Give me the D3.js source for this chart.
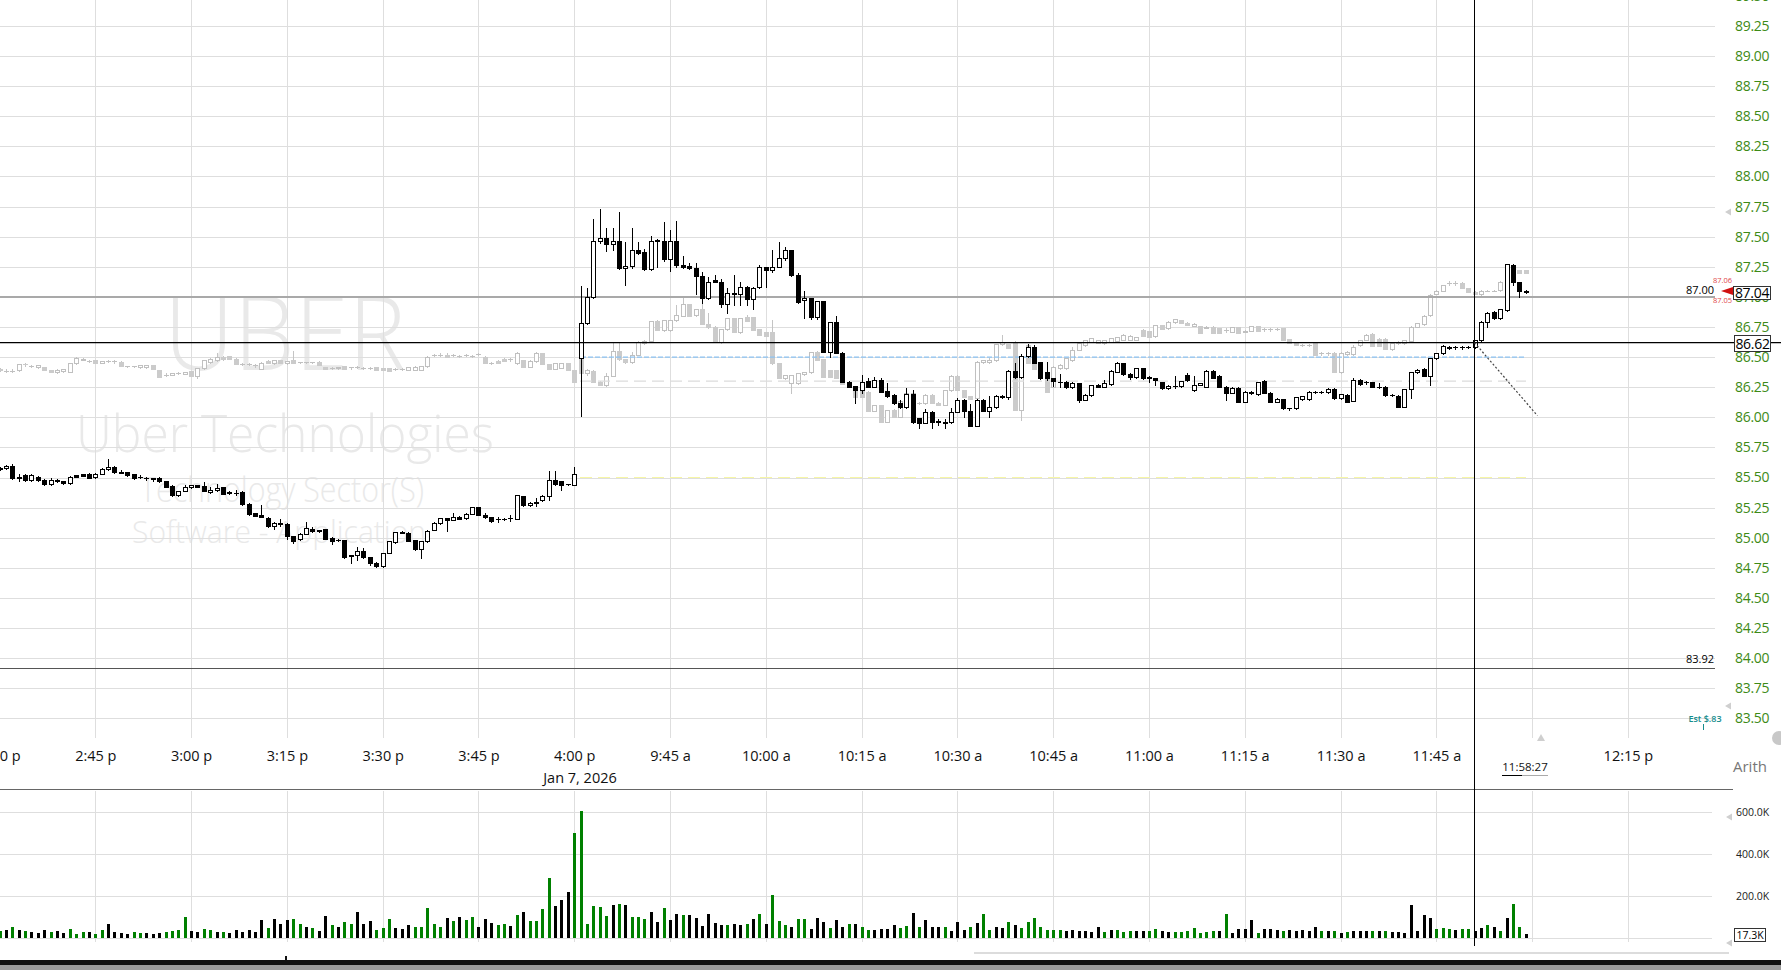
<!DOCTYPE html>
<html><head><meta charset="utf-8">
<script src="https://cdn.jsdelivr.net/npm/d3@7/dist/d3.min.js"></script>
<style>
html,body{margin:0;padding:0;background:#fff;overflow:hidden}
svg{display:block}
text{font-family:"Open Sans","Noto Sans",sans-serif}
</style></head><body>
<svg id="c" width="1781" height="970"></svg>
<script>
// ---------------- DATA ----------------
// previous session (Jan 6) 1-min candles [open, high, low, close], 2:30p .. 4:00p
const prevDayCandles = [
[85.569,85.59,85.56,85.583],[85.58,85.603,85.57,85.597],[85.597,85.614,85.49,85.494],[85.494,85.525,85.467,85.503],
[85.517,85.531,85.475,85.481],[85.481,85.525,85.475,85.517],[85.506,85.51,85.475,85.481],[85.481,85.485,85.44,85.444],
[85.444,85.494,85.44,85.481],[85.481,85.485,85.46,85.467],[85.467,85.47,85.45,85.453],[85.453,85.51,85.45,85.506],
[85.519,85.52,85.505,85.508],[85.525,85.53,85.51,85.514],[85.531,85.535,85.5,85.5],[85.503,85.535,85.5,85.531],
[85.531,85.575,85.53,85.569],[85.569,85.653,85.565,85.589],[85.589,85.595,85.54,85.542],[85.542,85.564,85.536,85.538],
[85.542,85.545,85.515,85.517],[85.525,85.53,85.49,85.494],[85.506,85.52,85.5,85.503],[85.5,85.502,85.48,85.497],
[85.494,85.496,85.475,85.491],[85.5,85.505,85.465,85.467],[85.472,85.475,85.42,85.425],[85.431,85.435,85.35,85.353],
[85.353,85.392,85.35,85.389],[85.389,85.436,85.385,85.417],[85.417,85.44,85.415,85.436],[85.436,85.44,85.42,85.425],
[85.431,85.461,85.385,85.389],[85.378,85.417,85.369,85.4],[85.394,85.444,85.39,85.414],[85.417,85.42,85.365,85.367],
[85.381,85.385,85.365,85.369],[85.375,85.397,85.353,85.373],[85.383,85.385,85.275,85.278],[85.283,85.285,85.19,85.194],
[85.203,85.205,85.178,85.181],[85.186,85.272,85.172,85.175],[85.167,85.17,85.09,85.094],[85.097,85.13,85.069,85.125],
[85.125,85.153,85.097,85.114],[85.114,85.118,84.992,85.014],[85.014,85.016,84.958,84.975],[84.989,85.035,84.985,85.031],
[85.033,85.128,85.03,85.081],[85.075,85.092,85.047,85.058],[85.067,85.068,85.05,85.056],[85.072,85.075,84.99,84.992],
[85.0,85.002,84.947,84.975],[84.981,84.99,84.97,84.98],[84.981,84.983,84.833,84.836],[84.853,84.855,84.792,84.852],
[84.853,84.925,84.814,84.886],[84.892,84.911,84.83,84.836],[84.836,84.84,84.772,84.789],[84.794,84.797,84.758,84.761],
[84.761,84.877,84.758,84.875],[84.875,84.972,84.869,84.969],[84.961,85.046,84.958,85.044],[85.05,85.053,85.036,85.039],
[85.042,85.045,84.972,84.975],[84.981,84.983,84.897,84.906],[84.906,84.972,84.833,84.969],[84.969,85.06,84.966,85.058],
[85.064,85.128,85.06,85.125],[85.119,85.167,85.117,85.164],[85.164,85.166,85.058,85.147],[85.147,85.206,85.145,85.175],
[85.175,85.178,85.155,85.158],[85.161,85.203,85.158,85.2],[85.2,85.255,85.197,85.253],[85.253,85.255,85.186,85.189],
[85.192,85.203,85.161,85.169],[85.169,85.172,85.133,85.142],[85.153,85.175,85.131,85.152],[85.158,85.165,85.15,85.157],
[85.164,85.186,85.142,85.163],[85.158,85.358,85.155,85.353],[85.346,85.35,85.265,85.27],[85.27,85.295,85.265,85.29],
[85.29,85.33,85.26,85.3],[85.31,85.355,85.305,85.35],[85.35,85.555,85.31,85.48],[85.48,85.555,85.44,85.445],
[85.47,85.472,85.4,85.44],[85.445,85.45,85.435,85.443],[85.44,85.59,85.438,85.53]
];
// Jan 7 session 1-min candles [open, high, low, close], 9:31a .. 11:59a
const todayCandles = [
[86.49,87.09,86.01,86.786],[86.786,87.071,86.775,86.997],[86.997,87.647,86.99,87.462],[87.462,87.73,87.45,87.487],
[87.487,87.572,87.384,87.437],[87.437,87.57,87.39,87.462],[87.462,87.705,87.23,87.237],[87.237,87.453,87.102,87.254],
[87.254,87.572,87.24,87.387],[87.387,87.453,87.36,87.368],[87.37,87.395,87.22,87.232],[87.232,87.506,87.225,87.467],
[87.467,87.478,87.25,87.473],[87.467,87.62,87.30,87.312],[87.312,87.556,87.213,87.462],[87.462,87.63,87.25,87.262],
[87.262,87.34,87.24,87.251],[87.254,87.279,87.23,87.237],[87.237,87.279,87.02,87.177],[87.177,87.21,86.947,86.994],
[86.994,87.163,86.98,87.127],[87.141,87.182,87.12,87.127],[87.127,87.146,86.919,86.938],[86.938,87.071,86.864,87.035],
[87.035,87.182,86.933,87.022],[87.022,87.127,86.933,87.085],[87.085,87.09,86.933,86.98],[86.98,87.08,86.897,87.077],
[87.08,87.265,87.07,87.246],[87.246,87.25,87.085,87.224],[87.224,87.39,87.21,87.251],[87.251,87.453,87.245,87.32],
[87.32,87.412,87.31,87.387],[87.387,87.39,87.17,87.18],[87.18,87.201,86.95,86.961],[86.972,87.052,86.822,86.988],
[86.988,86.99,86.82,86.83],[86.83,86.97,86.82,86.966],[86.966,86.97,86.54,86.545],[86.545,86.79,86.504,86.789],
[86.789,86.842,86.53,86.537],[86.537,86.54,86.29,86.296],[86.296,86.3,86.25,86.255],[86.26,86.26,86.116,86.227],
[86.227,86.352,86.205,86.296],[86.302,86.324,86.25,86.255],[86.255,86.338,86.25,86.307],[86.307,86.324,86.21,86.213],
[86.221,86.282,86.17,86.177],[86.185,86.19,86.11,86.116],[86.122,86.144,86.08,86.083],[86.083,86.241,86.08,86.194],
[86.194,86.227,85.955,85.961],[85.992,85.995,85.914,85.95],[85.95,86.066,85.95,86.047],[86.047,86.05,85.914,85.961],
[85.97,85.986,85.936,85.958],[85.964,85.989,85.909,85.953],[85.958,86.075,85.95,86.041],[86.044,86.158,86.04,86.144],
[86.144,86.15,86.005,86.055],[86.055,86.111,85.925,85.931],[85.931,86.15,85.925,86.144],[86.144,86.15,86.05,86.055],
[86.055,86.177,86.0,86.083],[86.083,86.185,86.08,86.18],[86.18,86.185,86.16,86.166],[86.166,86.393,86.155,86.385],
[86.385,86.448,86.33,86.338],[86.338,86.526,86.33,86.509],[86.509,86.606,86.5,86.584],[86.584,86.601,86.45,86.454],
[86.457,86.46,86.32,86.33],[86.376,86.457,86.31,86.323],[86.33,86.33,86.26,86.304],[86.295,86.36,86.25,86.29],
[86.296,86.30,86.24,86.249],[86.249,86.29,86.245,86.282],[86.282,86.285,86.13,86.144],[86.144,86.19,86.14,86.185],
[86.185,86.27,86.18,86.268],[86.268,86.28,86.25,86.254],[86.254,86.31,86.25,86.282],[86.274,86.39,86.27,86.387],
[86.379,86.46,86.375,86.448],[86.448,86.45,86.355,86.36],[86.36,86.365,86.32,86.332],[86.332,86.41,86.33,86.407],
[86.407,86.41,86.32,86.323],[86.332,86.34,86.29,86.33],[86.329,86.33,86.27,86.31],[86.29,86.295,86.235,86.241],
[86.241,86.265,86.235,86.26],[86.26,86.34,86.24,86.261],[86.26,86.305,86.255,86.301],[86.351,86.365,86.305,86.31],
[86.227,86.34,86.22,86.268],[86.268,86.285,86.265,86.282],[86.254,86.39,86.25,86.385],[86.385,86.39,86.325,86.329],
[86.345,86.35,86.25,86.254],[86.254,86.26,86.144,86.205],[86.205,86.25,86.2,86.245],[86.245,86.25,86.125,86.13],
[86.13,86.22,86.125,86.213],[86.205,86.215,86.195,86.206],[86.191,86.295,86.185,86.29],[86.304,86.31,86.2,86.205],
[86.205,86.21,86.125,86.13],[86.13,86.16,86.125,86.152],[86.152,86.155,86.07,86.074],[86.074,86.08,86.06,86.075],
[86.074,86.17,86.07,86.166],[86.149,86.18,86.145,86.177],[86.149,86.22,86.145,86.213],[86.213,86.22,86.205,86.214],
[86.213,86.22,86.205,86.214],[86.21,86.24,86.205,86.232],[86.235,86.24,86.155,86.158],[86.158,86.195,86.15,86.191],
[86.185,86.19,86.125,86.13],[86.138,86.33,86.135,86.31],[86.31,86.315,86.27,86.277],[86.29,86.30,86.28,86.291],
[86.29,86.295,86.25,86.254],[86.254,86.282,86.241,86.255],[86.254,86.26,86.18,86.185],[86.185,86.19,86.175,86.186],
[86.18,86.185,86.085,86.088],[86.088,86.235,86.085,86.232],[86.232,86.38,86.158,86.373],[86.373,86.40,86.37,86.393],
[86.401,86.41,86.34,86.346],[86.346,86.495,86.27,86.49],[86.49,86.535,86.485,86.531],[86.531,86.60,86.525,86.595],
[86.587,86.59,86.57,86.575],[86.581,86.59,86.57,86.582],[86.581,86.59,86.57,86.582],[86.587,86.595,86.575,86.588],
[86.581,86.645,86.575,86.642],[86.639,86.80,86.635,86.794],[86.794,86.875,86.75,86.869],[86.875,86.88,86.82,86.827],
[86.827,86.90,86.82,86.897],[86.891,87.275,86.885,87.27],[87.265,87.27,87.10,87.127],[87.121,87.125,87.0,87.046],
[87.046,87.06,87.03,87.04]
];
// light-grey overlay series [open, high, low, close], one per bar slot
const ghostCandles = [
[86.40,86.41,86.385,86.39],[86.383,86.40,86.38,86.383],[86.383,86.40,86.38,86.384],[86.389,86.445,86.386,86.442],
[86.442,86.45,86.43,86.44],[86.425,86.435,86.415,86.425],[86.417,86.435,86.41,86.431],[86.417,86.42,86.39,86.392],
[86.392,86.395,86.375,86.378],[86.375,86.4,86.37,86.397],[86.381,86.405,86.375,86.403],[86.378,86.455,86.375,86.45],
[86.45,86.497,86.445,86.492],[86.478,86.492,86.475,86.486],[86.47,86.48,86.46,86.47],[86.475,86.477,86.45,86.45],
[86.45,86.47,86.447,86.467],[86.47,86.48,86.46,86.47],[86.464,86.475,86.455,86.464],[86.461,86.465,86.425,86.425],
[86.425,86.43,86.42,86.425],[86.425,86.43,86.42,86.425],[86.414,86.435,86.41,86.431],[86.414,86.433,86.41,86.431],
[86.431,86.433,86.403,86.403],[86.394,86.396,86.336,86.336],[86.353,86.365,86.345,86.353],[86.353,86.372,86.35,86.369],
[86.369,86.375,86.36,86.369],[86.361,86.38,86.358,86.378],[86.383,86.386,86.342,86.342],[86.342,86.407,86.33,86.406],
[86.406,86.478,86.4,86.475],[86.458,86.49,86.455,86.486],[86.475,86.53,86.47,86.497],[86.503,86.505,86.48,86.481],
[86.508,86.51,86.486,86.486],[86.486,86.49,86.439,86.439],[86.442,86.45,86.435,86.442],[86.442,86.45,86.435,86.442],
[86.431,86.44,86.42,86.431],[86.403,86.458,86.4,86.453],[86.469,86.472,86.447,86.447],[86.447,86.478,86.445,86.475],
[86.475,86.478,86.447,86.447],[86.447,86.47,86.445,86.469],[86.475,86.547,86.45,86.453],[86.456,86.46,86.45,86.456],
[86.456,86.46,86.45,86.456],[86.456,86.46,86.45,86.456],[86.461,86.465,86.433,86.433],[86.419,86.42,86.403,86.403],
[86.411,86.42,86.4,86.411],[86.406,86.42,86.405,86.419],[86.425,86.428,86.403,86.403],[86.414,86.42,86.405,86.414],
[86.419,86.425,86.41,86.419],[86.408,86.415,86.4,86.408],[86.408,86.415,86.4,86.408],[86.414,86.415,86.397,86.397],
[86.408,86.41,86.392,86.392],[86.408,86.41,86.386,86.386],[86.4,86.41,86.39,86.4],[86.4,86.41,86.39,86.4],
[86.392,86.42,86.39,86.414],[86.397,86.425,86.395,86.419],[86.397,86.43,86.395,86.425],[86.425,86.505,86.42,86.503],
[86.514,86.525,86.505,86.514],[86.519,86.53,86.51,86.519],[86.519,86.53,86.503,86.503],[86.514,86.525,86.505,86.514],
[86.508,86.52,86.5,86.508],[86.514,86.525,86.505,86.514],[86.508,86.52,86.5,86.508],[86.525,86.535,86.515,86.525],
[86.503,86.505,86.453,86.453],[86.453,86.46,86.445,86.453],[86.469,86.472,86.453,86.453],[86.486,86.49,86.464,86.464],
[86.481,86.49,86.47,86.481],[86.447,86.54,86.44,86.53],[86.476,86.48,86.42,86.421],[86.421,86.475,86.418,86.471],
[86.468,86.545,86.46,86.53],[86.53,86.535,86.443,86.443],[86.443,86.446,86.399,86.399],[86.404,86.45,86.4,86.448],
[86.412,86.455,86.41,86.451],[86.451,86.455,86.393,86.393],[86.393,86.396,86.296,86.296],
[86.49,86.50,86.36,86.365],[86.365,86.40,86.35,86.393],[86.387,86.39,86.29,86.291],[86.296,86.30,86.265,86.268],
[86.268,86.371,86.26,86.343],[86.343,86.615,86.34,86.554],[86.554,86.615,86.48,86.482],[86.482,86.485,86.455,86.457],
[86.457,86.545,86.45,86.518],[86.518,86.63,86.515,86.628],[86.615,86.64,86.61,86.637],[86.637,86.80,86.63,86.80],
[86.80,86.805,86.725,86.725],[86.725,86.81,86.72,86.808],[86.725,86.81,86.72,86.808],[86.808,86.933,86.80,86.85],
[86.842,86.988,86.84,86.938],[86.938,86.94,86.842,86.842],[86.85,86.9,86.845,86.9],[86.9,86.938,86.775,86.775],
[86.775,86.864,86.745,86.747],[86.753,86.755,86.628,86.628],[86.628,86.731,86.62,86.731],[86.731,86.822,86.725,86.822],
[86.822,86.825,86.711,86.711],[86.706,86.822,86.70,86.822],[86.83,86.85,86.80,86.803],[86.83,86.835,86.725,86.725],
[86.731,86.735,86.684,86.684],[86.706,86.71,86.678,86.678],[86.706,86.808,86.445,86.448],[86.448,86.45,86.324,86.324],
[86.324,86.355,86.32,86.352],[86.282,86.355,86.199,86.352],[86.282,86.37,86.28,86.365],[86.36,86.375,86.355,86.374],
[86.374,86.545,86.37,86.545],[86.545,86.55,86.476,86.476],[86.482,86.485,86.332,86.332],[86.393,86.395,86.332,86.332],
[86.393,86.395,86.324,86.324],[86.31,86.312,86.277,86.277],[86.268,86.27,86.255,86.255],[86.255,86.258,86.172,86.172],
[86.227,86.23,86.172,86.172],[86.213,86.215,86.053,86.053],[86.053,86.105,86.05,86.102],[86.102,86.105,85.964,85.964],
[85.964,86.061,85.96,86.061],[86.061,86.065,86.005,86.005],[86.005,86.138,86.0,86.138],[86.083,86.241,86.08,86.205],
[86.144,86.21,86.14,86.205],[86.116,86.125,86.11,86.122],[86.116,86.19,86.11,86.185],[86.185,86.19,86.116,86.116],
[86.122,86.125,86.102,86.102],[86.102,86.23,86.1,86.227],[86.227,86.35,86.22,86.343],[86.343,86.35,86.227,86.227],
[86.227,86.23,86.166,86.166],[86.177,86.18,86.155,86.155],[86.158,86.465,86.15,86.462],[86.462,86.48,86.455,86.476],
[86.462,86.49,86.455,86.476],[86.476,86.61,86.47,86.609],[86.609,86.681,86.60,86.628],[86.609,86.612,86.573,86.573],
[86.62,86.63,86.06,86.06],[86.06,86.52,85.98,86.50],[86.60,86.61,86.45,86.45],[86.45,86.455,86.40,86.40],
[86.40,86.41,86.36,86.365],[86.365,86.37,86.21,86.213],[86.254,86.43,86.25,86.42],[86.407,86.44,86.40,86.434],
[86.407,86.495,86.40,86.49],[86.476,86.587,86.47,86.559],[86.559,86.62,86.555,86.614],[86.60,86.645,86.595,86.642],
[86.628,86.66,86.625,86.656],[86.62,86.645,86.615,86.642],[86.614,86.645,86.61,86.642],[86.628,86.66,86.625,86.656],
[86.636,86.67,86.63,86.664],[86.642,86.69,86.64,86.684],[86.642,86.68,86.64,86.675],[86.642,86.67,86.64,86.664],
[86.725,86.73,86.675,86.675],[86.717,86.72,86.664,86.664],[86.675,86.77,86.67,86.767],[86.767,86.77,86.731,86.731],
[86.739,86.80,86.735,86.794],[86.789,86.82,86.785,86.814],[86.808,86.81,86.786,86.786],[86.786,86.79,86.767,86.767],
[86.758,86.78,86.755,86.775],[86.758,86.76,86.697,86.697],[86.742,86.755,86.74,86.753],[86.753,86.755,86.697,86.697],
[86.742,86.745,86.703,86.703],[86.725,86.74,86.71,86.725],[86.711,86.75,86.71,86.747],[86.747,86.75,86.697,86.697],
[86.708,86.725,86.705,86.72],[86.72,86.76,86.715,86.758],[86.758,86.76,86.72,86.72],[86.731,86.74,86.72,86.731],
[86.731,86.74,86.72,86.731],[86.736,86.745,86.725,86.736],[86.739,86.745,86.642,86.642],[86.648,86.65,86.62,86.62],
[86.62,86.622,86.60,86.60],[86.60,86.61,86.59,86.60],[86.60,86.61,86.59,86.60],[86.614,86.62,86.517,86.517],
[86.531,86.54,86.52,86.531],[86.531,86.54,86.52,86.531],[86.537,86.54,86.379,86.379],[86.379,86.54,86.37,86.537],
[86.526,86.55,86.52,86.545],[86.526,86.60,86.52,86.587],[86.60,86.645,86.595,86.642],[86.642,86.69,86.64,86.684],
[86.692,86.70,86.592,86.592],[86.653,86.66,86.592,86.592],[86.653,86.66,86.564,86.564],[86.564,86.62,86.56,86.62],
[86.62,86.63,86.61,86.62],[86.614,86.645,86.61,86.642],[86.636,86.76,86.63,86.753],[86.753,86.78,86.75,86.781],
[86.775,86.85,86.77,86.844],[86.85,87.02,86.845,87.016],[87.024,87.06,87.02,87.052],[87.052,87.10,87.05,87.099],
[87.118,87.13,87.10,87.118],[87.118,87.13,87.10,87.118],[87.118,87.12,87.071,87.071],[87.071,87.075,87.043,87.043],
[87.043,87.045,87.021,87.021],[87.024,87.06,87.0,87.052],[87.052,87.06,87.045,87.052],[87.052,87.06,87.045,87.052],
[87.057,87.13,87.05,87.121],[87.121,87.14,87.12,87.13],[87.127,87.23,87.12,87.223],[87.223,87.225,87.201,87.201],
[87.223,87.225,87.196,87.196]
];
// volume per bar, thousands of shares
const volumesK = [
30,34,49,34,29,24,20,34,24,29,20,39,15,24,24,15,34,63,24,20,15,24,20,20,15,20,24,29,34,98,
29,24,39,34,24,24,20,34,24,34,24,83,44,88,63,83,88,63,49,44,29,102,59,49,73,63,122,63,78,34,
44,88,44,39,59,49,49,141,63,49,93,78,98,83,98,49,88,68,59,63,54,107,122,78,78,137,283,151,180,220,
500,607,63,151,146,102,156,161,156,98,98,88,122,73,141,83,112,107,107,93,54,112,68,59,59,63,59,63,88,112,
63,205,78,62,49,89,89,43,92,75,46,82,49,66,66,49,36,36,40,40,62,46,56,118,52,85,49,49,49,33,
72,36,52,69,111,36,52,46,72,62,46,75,92,52,36,36,36,30,36,33,30,26,52,26,36,36,26,30,30,33,
33,39,30,26,26,26,30,46,20,26,30,30,115,23,39,39,82,23,39,43,36,33,36,33,36,30,52,33,30,30,
20,26,30,33,33,33,33,30,26,26,20,156,30,108,92,39,46,43,36,39,43,30,46,59,49,33,92,161,49,17.3
];
// volume bar colour per bar: g = green, b = black
const volumeColors = (
"gbgbgbbbgbbgggbggbbbbggbbbggggbbggbgbbbbbbgbbbggbgbbgbggbbbgggbbbgggggbgbggbbbggbgbggggbbbgg"+
"ggggbgbgggbbgbbgbbbbbbgbbgbgbgggbggbbbgbbgbggbbbbggbgbbbgbbbgbggbbgbgggggggbbbbbbgbgggbbggbbg"+
"ggggggbgbbbbgbbbgbbbbbgbgbgbbbgbgbbbbbbbgggbggbbgbgbggbggbbb"
).split("");
// axis ticks / labels
const timeTickIdx = [0,15,30,45,60,75,90,105,120,135,150,165,180,195,210,225,255];
const timeTickLabels = ["2:30 p","2:45 p","3:00 p","3:15 p","3:30 p","3:45 p","4:00 p","9:45 a","10:00 a","10:15 a","10:30 a","10:45 a","11:00 a","11:15 a","11:30 a","11:45 a","12:15 p"];
const timeGridIdx = [15,30,45,60,75,90,105,120,135,150,165,180,195,210,225,240,255];
const priceTicks = [89.5,89.25,89.0,88.75,88.5,88.25,88.0,87.75,87.5,87.25,87.0,86.75,86.5,86.25,86.0,85.75,85.5,85.25,85.0,84.75,84.5,84.25,84.0,83.75,83.5];
const volumeTicks = [200000,400000,600000];
const volumeTickLabels = ["200.0K","400.0K","600.0K"];
// reference levels
const levelPrevHigh = 87.00, levelCross = 86.62, levelLow = 83.92, levelBlue = 86.50, levelGreyDash = 86.30, levelYellow = 85.50;
const lastPrice = 87.04;

// ---------------- DRAW ----------------
const svg = d3.select("#c");
const W = 1781;
const candles = prevDayCandles.concat(todayCandles);
const x = d3.scaleLinear().domain([0,255]).range([-0.5,1627.9]);
const y = d3.scaleLinear().domain([83.5,87.5]).range([718.3,236.7]);
const vy = d3.scaleLinear().domain([0,600000]).range([937.5,812.4]);
const px = i => Math.round(x(i)) + 0.5;
const PLOT_R = 1715;

// watermark
const wm = svg.append("g").attr("fill","#e9e9e9").style("font-weight",300);
wm.append("text").attr("x",164).attr("y",370).attr("font-size",104).attr("textLength",242).attr("lengthAdjust","spacingAndGlyphs").text("UBER");
wm.append("text").attr("x",76).attr("y",452).attr("font-size",52).attr("textLength",418).attr("lengthAdjust","spacingAndGlyphs").text("Uber Technologies");
wm.append("text").attr("x",140).attr("y",502).attr("font-size",34).attr("textLength",284).attr("lengthAdjust","spacingAndGlyphs").text("Technology Sector(S)");
wm.append("text").attr("x",132).attr("y",543).attr("font-size",32).attr("textLength",294).attr("lengthAdjust","spacingAndGlyphs").text("Software - Application");

// grid
const grid = svg.append("g").attr("stroke","#dedede").attr("stroke-width",1).attr("shape-rendering","crispEdges");
grid.selectAll("line.h").data(priceTicks).join("line")
  .attr("x1",0).attr("x2",PLOT_R).attr("y1",d=>Math.round(y(d))+0.5).attr("y2",d=>Math.round(y(d))+0.5);
grid.selectAll("line.v").data(timeGridIdx).join("line")
  .attr("x1",d=>px(d)).attr("x2",d=>px(d)).attr("y1",0).attr("y2",738);
grid.selectAll("line.vv").data(timeGridIdx).join("line")
  .attr("x1",d=>px(d)).attr("x2",d=>px(d)).attr("y1",791).attr("y2",942);
grid.selectAll("line.vh").data([0].concat(volumeTicks)).join("line")
  .attr("x1",0).attr("x2",1712).attr("y1",d=>Math.round(vy(d))+0.5).attr("y2",d=>Math.round(vy(d))+0.5);

function drawCandles(g, data, up, down, wick){
  data.forEach((d,i)=>{
    const [o,h,l,c] = d;
    const cx = px(i);
    g.append("line").attr("x1",cx).attr("x2",cx).attr("y1",Math.round(y(h))).attr("y2",Math.round(y(l))+1)
      .attr("stroke",wick).attr("stroke-width",1);
    const t = Math.round(y(Math.max(o,c))), b = Math.round(y(Math.min(o,c)));
    if (b - t < 2) {
      g.append("rect").attr("x",cx-2.5).attr("y",t).attr("width",5).attr("height",Math.max(1,b-t+1))
        .attr("fill", c>=o ? up.stroke : down.fill);
    } else if (c >= o) {
      g.append("rect").attr("x",cx-2).attr("y",t+0.5).attr("width",4).attr("height",b-t)
        .attr("fill",up.fill).attr("stroke",up.stroke).attr("stroke-width",1);
    } else {
      g.append("rect").attr("x",cx-2.5).attr("y",t).attr("width",5).attr("height",b-t+1)
        .attr("fill",down.fill);
    }
  });
}

// grey overlay series
const gg = svg.append("g").attr("shape-rendering","crispEdges");
drawCandles(gg, ghostCandles, {fill:"#fff",stroke:"#c0c0c0"}, {fill:"#cbcbcb"}, "#c4c4c4");

// level lines
const lv = svg.append("g");
lv.append("line").attr("x1",580).attr("x2",1526).attr("y1",y(levelGreyDash)).attr("y2",y(levelGreyDash))
  .attr("stroke","#dcdcdc").attr("stroke-width",1.2).attr("stroke-dasharray","12,6");
lv.append("line").attr("x1",580).attr("x2",1526).attr("y1",y(levelYellow)).attr("y2",y(levelYellow))
  .attr("stroke","#f6f6a6").attr("stroke-width",1.2).attr("stroke-dasharray","12,6");
lv.append("line").attr("x1",581).attr("x2",1526).attr("y1",y(levelBlue)).attr("y2",y(levelBlue))
  .attr("stroke","#8cc2f2").attr("stroke-width",1.2).attr("stroke-dasharray","5,2");
lv.append("line").attr("x1",0).attr("x2",PLOT_R).attr("y1",y(levelPrevHigh)).attr("y2",y(levelPrevHigh))
  .attr("stroke","#a9a9a9").attr("stroke-width",2);
lv.append("line").attr("x1",0).attr("x2",PLOT_R).attr("y1",Math.round(y(levelLow))+0.5).attr("y2",Math.round(y(levelLow))+0.5)
  .attr("stroke","#555").attr("stroke-width",1).attr("shape-rendering","crispEdges");

// main candles
const mg = svg.append("g").attr("shape-rendering","crispEdges");
drawCandles(mg, candles, {fill:"#fff",stroke:"#000"}, {fill:"#000"}, "#000");

// volume
const vg = svg.append("g").attr("shape-rendering","crispEdges");
vg.selectAll("rect").data(volumesK).join("rect")
  .attr("x",(d,i)=>Math.round(x(i))-1).attr("width",3)
  .attr("y",d=>Math.round(vy(d*1000))).attr("height",d=>Math.round(vy(0))-Math.round(vy(d*1000)))
  .attr("fill",(d,i)=>volumeColors[i]==="g"?"#008000":"#000");

// panel separator
svg.append("line").attr("x1",0).attr("x2",1733).attr("y1",789.5).attr("y2",789.5).attr("stroke","#666").attr("stroke-width",1);

// crosshair
const xc = 1474.5;
svg.append("line").attr("x1",xc).attr("x2",xc).attr("y1",0).attr("y2",946).attr("stroke","#000").attr("stroke-width",1);
svg.append("line").attr("x1",0).attr("x2",W).attr("y1",y(levelCross)).attr("y2",y(levelCross)).attr("stroke","#000").attr("stroke-width",1.3);
svg.append("line").attr("x1",xc).attr("x2",1537.5).attr("y1",y(levelCross)).attr("y2",415.7)
  .attr("stroke","#444").attr("stroke-width",1.2).attr("stroke-dasharray","2,2");

// price axis
const pa = svg.append("g").attr("transform","translate(1733,0)")
  .call(d3.axisRight(y).tickValues(priceTicks).tickFormat(d3.format(".2f")).tickSize(0).tickPadding(2));
pa.select(".domain").remove();
pa.selectAll("text").attr("fill","#3d8a16").attr("font-size",14).style("letter-spacing","-0.3px")
  .style("font-family","'Open Sans',sans-serif");

// time axis
const ta = svg.append("g").attr("transform","translate(0,748)")
  .call(d3.axisBottom(x).tickValues(timeTickIdx).tickFormat((d,i)=>timeTickLabels[i]).tickSize(0).tickPadding(3));
ta.select(".domain").remove();
ta.selectAll("text").attr("fill","#111").attr("font-size",14.5).style("font-family","'Open Sans',sans-serif");
svg.append("text").attr("x",580).attr("y",783).attr("text-anchor","middle").attr("font-size",14.5).attr("fill","#111").text("Jan 7, 2026");

// volume axis
const va = svg.append("g").attr("transform","translate(1734,0)")
  .call(d3.axisRight(vy).tickValues(volumeTicks).tickFormat((d,i)=>volumeTickLabels[i]).tickSize(0).tickPadding(2));
va.select(".domain").remove();
va.selectAll("text").attr("fill","#222").attr("font-size",10.5).style("font-family","'Open Sans',sans-serif");

// current price box & markers
svg.append("rect").attr("x",1733.5).attr("y",286.5).attr("width",37).attr("height",13).attr("fill","#fff").attr("stroke","#333");
svg.append("text").attr("x",1752).attr("y",298).attr("text-anchor","middle").attr("font-size",14).style("letter-spacing","-0.3px").attr("fill","#000").text("87.04");
svg.append("polygon").attr("points","1721,291 1733,287 1733,295").attr("fill","#d01010");
svg.append("text").attr("x",1732).attr("y",282.5).attr("text-anchor","end").attr("font-size",7.5).attr("fill","#e04848").text("87.06");
svg.append("text").attr("x",1732).attr("y",303).attr("text-anchor","end").attr("font-size",7.5).attr("fill","#e04848").text("87.05");
svg.append("text").attr("x",1714).attr("y",294).attr("text-anchor","end").attr("font-size",11).attr("fill","#000").text("87.00");
svg.append("text").attr("x",1714).attr("y",663).attr("text-anchor","end").attr("font-size",11).attr("fill","#000").text("83.92");

// crosshair price box
svg.append("rect").attr("x",1734.5).attr("y",335.5).attr("width",36).attr("height",16).attr("fill","#fff").attr("stroke","#333");
svg.append("text").attr("x",1752.5).attr("y",348.5).attr("text-anchor","middle").attr("font-size",14).style("letter-spacing","-0.3px").attr("fill","#000").text("86.62");

// est label
svg.append("text").attr("x",1705).attr("y",722).attr("text-anchor","middle").attr("font-size",9).attr("font-weight",600).attr("fill","#168c8c").text("Est $.83");
svg.append("line").attr("x1",1703.5).attr("x2",1703.5).attr("y1",724).attr("y2",730).attr("stroke","#168c8c");

// small grey triangles
const tri = (cx,cy)=>`${cx-4},${cy} ${cx+2},${cy-3.5} ${cx+2},${cy+3.5}`;
[[1729,212],[1729,706],[1730,817],[1730,943]].forEach(p=>svg.append("polygon").attr("points",tri(p[0],p[1])).attr("fill","#cfcfcf"));
svg.append("polygon").attr("points","1537,741 1545,741 1541,734").attr("fill","#cfcfcf");
svg.append("circle").attr("cx",1779).attr("cy",738).attr("r",7).attr("fill","#c8c8c8");

// Arith & time stamp
svg.append("text").attr("x",1733).attr("y",772).attr("font-size",15).attr("fill","#777").text("Arith");
svg.append("text").attr("x",1525).attr("y",771).attr("text-anchor","middle").attr("font-size",11.5).attr("fill","#111").text("11:58:27");
svg.append("line").attr("x1",1502).attr("x2",1522).attr("y1",775.5).attr("y2",775.5).attr("stroke","#000").attr("stroke-width",1);
svg.append("line").attr("x1",1522).attr("x2",1548).attr("y1",775.5).attr("y2",775.5).attr("stroke","#aaa").attr("stroke-width",1);

// last volume box
svg.append("rect").attr("x",1734.5).attr("y",928.5).attr("width",31).attr("height",13).attr("fill","#fff").attr("stroke","#333");
svg.append("text").attr("x",1750).attr("y",939).attr("text-anchor","middle").attr("font-size",10.5).attr("fill","#000").text("17.3K");

// bottom frame
svg.append("rect").attr("x",974).attr("y",952).attr("width",755).attr("height",2).attr("fill","#dcdcdc");
svg.append("rect").attr("x",0).attr("y",960).attr("width",W).attr("height",5).attr("fill","#111");
svg.append("rect").attr("x",0).attr("y",965).attr("width",W).attr("height",5).attr("fill","#9a9a9a");
svg.append("rect").attr("x",285).attr("y",956).attr("width",2).attr("height",6).attr("fill","#111");
</script>
</body></html>
